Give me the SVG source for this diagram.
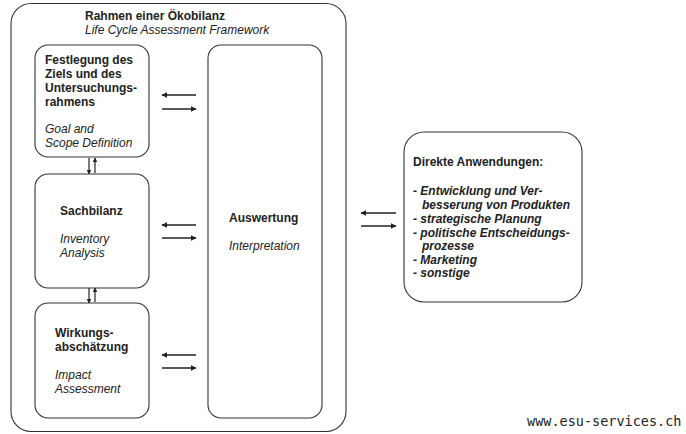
<svg xmlns="http://www.w3.org/2000/svg" width="686" height="434" viewBox="0 0 686 434">
<defs>
<marker id="ah" viewBox="0 0 10 10" refX="9" refY="5" markerWidth="4" markerHeight="4" orient="auto" markerUnits="strokeWidth">
<path d="M0,0 L10,5 L0,10 z" fill="#222"/>
</marker>
<style>
.box{fill:#fff;stroke:#333;stroke-width:1.1}
.t{font-family:"Liberation Sans",Arial,sans-serif;font-size:12px;fill:#222}
.b{font-weight:bold}
.i{font-style:italic}
.bi{font-weight:bold;font-style:italic}
.ar{stroke:#222;stroke-width:1.5;fill:none;marker-end:url(#ah)}
.vr{stroke:#222;stroke-width:1.2;fill:none;marker-end:url(#ah)}
</style>
</defs>
<rect width="686" height="434" fill="#fff"/>
<g id="frame">
<rect class="box" x="11" y="3.5" width="335" height="428" rx="20" ry="20"/>
<text class="t b" x="85" y="20">Rahmen einer Ökobilanz</text>
<text class="t i" x="85" y="34">Life Cycle Assessment Framework</text>
</g>
<g id="goal">
<rect class="box" x="35" y="45" width="114" height="112" rx="13" ry="13"/>
<text class="t b" x="45" y="64">Festlegung des</text>
<text class="t b" x="45" y="78">Ziels und des</text>
<text class="t b" x="45" y="92">Untersuchungs-</text>
<text class="t b" x="45" y="106">rahmens</text>
<text class="t i" x="45" y="133">Goal and</text>
<text class="t i" x="45" y="147">Scope Definition</text>
</g>
<g id="inventory">
<rect class="box" x="35" y="174" width="114" height="114" rx="13" ry="13"/>
<text class="t b" x="60" y="215">Sachbilanz</text>
<text class="t i" x="60" y="243">Inventory</text>
<text class="t i" x="60" y="257">Analysis</text>
</g>
<g id="impact">
<rect class="box" x="35" y="303" width="114" height="115" rx="13" ry="13"/>
<text class="t b" x="55" y="337">Wirkungs-</text>
<text class="t b" x="55" y="351">abschätzung</text>
<text class="t i" x="55" y="379">Impact</text>
<text class="t i" x="55" y="393">Assessment</text>
</g>
<g id="interpretation">
<rect class="box" x="208" y="45" width="114" height="373" rx="13" ry="13"/>
<text class="t b" x="229" y="222">Auswertung</text>
<text class="t i" x="229" y="250">Interpretation</text>
</g>
<g id="applications">
<rect class="box" x="404" y="132" width="178" height="170" rx="20" ry="20"/>
<text class="t b" x="413" y="166">Direkte Anwendungen:</text>
<text class="t bi" x="413" y="195">- Entwicklung und Ver-</text>
<text class="t bi" x="422" y="209">besserung von Produkten</text>
<text class="t bi" x="413" y="223">- strategische Planung</text>
<text class="t bi" x="413" y="237">- politische Entscheidungs-</text>
<text class="t bi" x="422" y="250">prozesse</text>
<text class="t bi" x="413" y="264">- Marketing</text>
<text class="t bi" x="413" y="277">- sonstige</text>
</g>
<g id="connectors">
<line class="vr" x1="89" y1="158" x2="89" y2="174"/>
<line class="vr" x1="95" y1="173" x2="95" y2="158"/>
<line class="vr" x1="89" y1="288" x2="89" y2="303"/>
<line class="vr" x1="95" y1="302" x2="95" y2="288"/>
<line class="ar" x1="196" y1="95" x2="162" y2="95"/>
<line class="ar" x1="162" y1="109" x2="196" y2="109"/>
<line class="ar" x1="196" y1="225" x2="162" y2="225"/>
<line class="ar" x1="162" y1="238" x2="196" y2="238"/>
<line class="ar" x1="196" y1="355" x2="162" y2="355"/>
<line class="ar" x1="162" y1="368" x2="196" y2="368"/>
<line class="ar" x1="396" y1="213" x2="361" y2="213"/>
<line class="ar" x1="361" y1="226" x2="396" y2="226"/>
</g>
<text x="527" y="426" font-family="'DejaVu Sans Mono',monospace" font-size="13.5" fill="#222">www.esu-services.ch</text>
</svg>
